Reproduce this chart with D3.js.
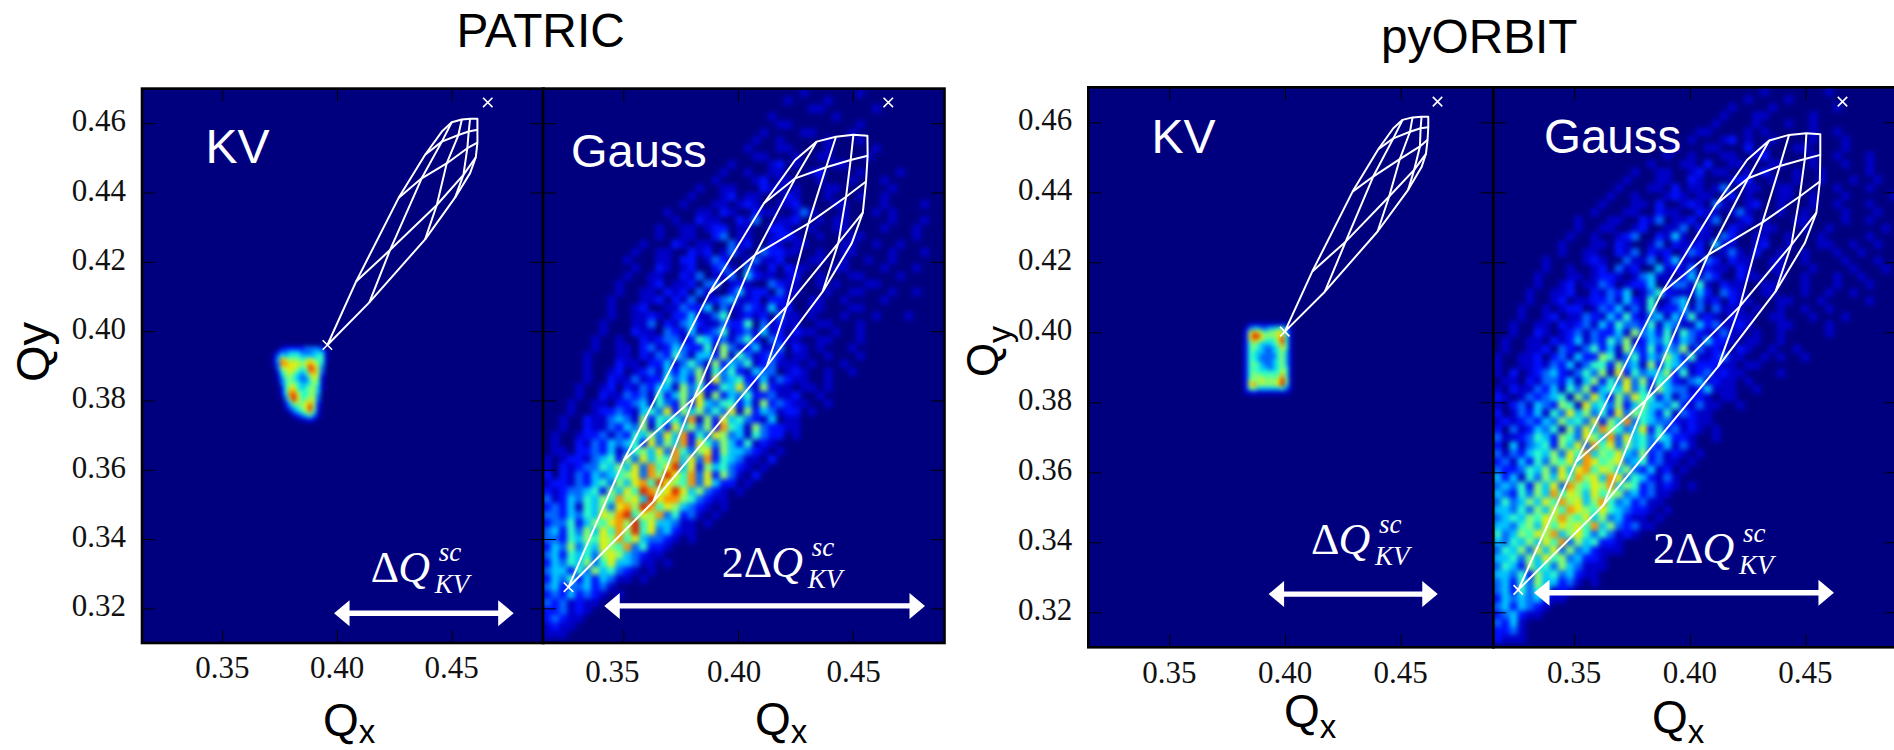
<!DOCTYPE html>
<html>
<head>
<meta charset="utf-8">
<title>PATRIC vs pyORBIT tune footprints</title>
<script src="https://cdn.jsdelivr.net/npm/d3@7"></script>
<style>
  html, body { margin: 0; padding: 0; background: #fff; overflow: hidden; }
  svg { display: block; }
  .tick text { font-family: "Liberation Serif", serif; font-size: 31px; fill: #111; }
  .tick line { stroke: #000; stroke-width: 1px; }
  .axis .domain { display: none; }
  .sans { font-family: "Liberation Sans", sans-serif; }
  .serif { font-family: "Liberation Serif", serif; }
</style>
</head>
<body>
<svg id="chart" width="1894" height="750"></svg>
<script>
const xTickValues = [0.35, 0.40, 0.45];
const yTickValues = [0.32, 0.34, 0.36, 0.38, 0.40, 0.42, 0.44, 0.46];
const xDomain = [0.315, 0.49];
const yDomain = [0.47, 0.31];

// tune footprints, [Qx, Qy]
const patricKvTie = [
  [[.3958,.3960],[.4083,.4143],[.4268,.4384],[.4384,.4509],[.4457,.4576],[.4500,.4603],[.4544,.4611],[.4580,.4613],[.4612,.4613],[.4612,.4581],[.4612,.4544],[.4605,.4502],[.4580,.4456],[.4515,.4386],[.4384,.4265],[.4141,.4083],[.3958,.3960]],
  [[.4083,.4143],[.4231,.4234],[.4435,.4364],[.4551,.4451],[.4605,.4502]],
  [[.4268,.4384],[.4369,.4441],[.4478,.4484],[.4568,.4528],[.4612,.4544]],
  [[.4384,.4509],[.4457,.4547],[.4529,.4566],[.4574,.4576],[.4612,.4581]],
  [[.4141,.4083],[.4231,.4234],[.4369,.4441],[.4457,.4547],[.4500,.4603]],
  [[.4384,.4265],[.4435,.4364],[.4478,.4484],[.4529,.4566],[.4544,.4611]],
  [[.4515,.4386],[.4551,.4451],[.4568,.4528],[.4574,.4576],[.4580,.4613]]
];
const patricGaussTie = [
  [[.3261,.3261],[.3503,.3628],[.3874,.4109],[.4113,.4369],[.4249,.4494],[.4343,.4547],[.4427,.4561],[.4503,.4567],[.4564,.4564],[.4565,.4506],[.4558,.4432],[.4544,.4342],[.4496,.4254],[.4369,.4114],[.4125,.3898],[.3631,.3508],[.3261,.3261]],
  [[.3503,.3628],[.3808,.3806],[.4212,.4071],[.4437,.4254],[.4544,.4342]],
  [[.3874,.4109],[.4074,.4220],[.4307,.4311],[.4471,.4388],[.4558,.4432]],
  [[.4113,.4369],[.4249,.4441],[.4384,.4473],[.4491,.4494],[.4565,.4506]],
  [[.3631,.3508],[.3808,.3806],[.4074,.4220],[.4249,.4441],[.4343,.4547]],
  [[.4125,.3898],[.4212,.4071],[.4307,.4311],[.4384,.4473],[.4427,.4561]],
  [[.4369,.4114],[.4437,.4254],[.4471,.4388],[.4491,.4494],[.4503,.4567]]
];
const orbitKvTie = [
  [[.3999,.4002],[.4118,.4174],[.4292,.4402],[.4403,.4523],[.4468,.4583],[.4508,.4607],[.4551,.4614],[.4590,.4616],[.4619,.4616],[.4619,.4586],[.4616,.4550],[.4609,.4510],[.4590,.4472],[.4532,.4407],[.4400,.4288],[.4172,.4116],[.3999,.4002]],
  [[.4118,.4174],[.4262,.4259],[.4450,.4388],[.4558,.4464],[.4609,.4510]],
  [[.4292,.4402],[.4381,.4445],[.4496,.4495],[.4583,.4531],[.4616,.4550]],
  [[.4403,.4523],[.4468,.4554],[.4540,.4573],[.4586,.4583],[.4619,.4586]],
  [[.4172,.4116],[.4262,.4259],[.4381,.4445],[.4468,.4554],[.4508,.4607]],
  [[.4400,.4288],[.4450,.4388],[.4496,.4495],[.4540,.4573],[.4551,.4614]],
  [[.4532,.4407],[.4558,.4464],[.4583,.4531],[.4586,.4583],[.4590,.4616]]
];
const orbitGaussTie = [
  [[.3258,.3264],[.3508,.3630],[.3878,.4112],[.4115,.4367],[.4248,.4493],[.4343,.4548],[.4429,.4564],[.4504,.4569],[.4564,.4566],[.4564,.4507],[.4562,.4431],[.4547,.4342],[.4497,.4255],[.4370,.4116],[.4122,.3902],[.3626,.3506],[.3258,.3264]],
  [[.3508,.3630],[.3810,.3806],[.4216,.4074],[.4439,.4250],[.4547,.4342]],
  [[.3878,.4112],[.4079,.4221],[.4314,.4314],[.4475,.4388],[.4562,.4431]],
  [[.4115,.4367],[.4252,.4440],[.4389,.4475],[.4497,.4495],[.4564,.4507]],
  [[.3626,.3506],[.3810,.3806],[.4079,.4221],[.4252,.4440],[.4343,.4548]],
  [[.4122,.3902],[.4216,.4074],[.4314,.4314],[.4389,.4475],[.4429,.4564]],
  [[.4370,.4116],[.4439,.4250],[.4475,.4388],[.4497,.4495],[.4504,.4569]]
];

// bare-tune markers [lower, upper]
const patricKvMarks = [[.3958,.3960],[.4657,.4660]];
const patricGaussMarks = [[.3261,.3261],[.4655,.4660]];
const orbitKvMarks = [[.3999,.4002],[.4659,.4659]];
const orbitGaussMarks = [[.3258,.3264],[.4660,.4659]];

// double arrows [Qx from, Qx to, Qy]
const patricKvArrow = [.3987, .4770, .3186];
const patricGaussArrow = [.3417, .4815, .3207];
const orbitKvArrow = [.3929, .4660, .3252];
const orbitGaussArrow = [.3326, .4623, .3256];

// density levels 0-9 per bin, one string per row from the top
const patricKvDensity = [
  "00122222333320",
  "02334443334441",
  "13545554444551",
  "14876665676551",
  "13887776787640",
  "03677765698630",
  "02567654588630",
  "01466543467620",
  "01356543357510",
  "00356654456510",
  "00257754566410",
  "00258865566400",
  "00148975566300",
  "00036975676300",
  "00024666786200",
  "00013456796200",
  "00001345685100",
  "00000123453100",
  "00000001121000"
];
const orbitKvDensity = [
  "0011111111110",
  "0134433445531",
  "0268765667741",
  "0279976667851",
  "0268765557951",
  "0256544456851",
  "0256543345751",
  "0255443345641",
  "0255433335641",
  "0255433345641",
  "0256543345641",
  "0255544345651",
  "0256555555751",
  "0256665656851",
  "0266676667961",
  "0278666667951",
  "0256444444531",
  "0112111111110"
];
const patricGaussDensity = [
  "00000000000000000000000000000000100000010",
  "0000000000000000000000000000001000010000",
  "000000000000000000000000000000000110000001",
  "0000000000000000000000000000100000001000",
  "000000000000000000000000000001100000000100",
  "0000000000000000000000000001000011000010",
  "00000000000000000000000000100100000100010",
  "000000000000000000000000010001100001000001",
  "0000000000000000000000000011000100110000100",
  "00000000000000000000000100001201000011000",
  "000000000000000000000010010011000120000100001",
  "00000000000000000000010000120110001000100010",
  "0000000000000000000100110002110100011000000100",
  "00000000000000000010001201100021000100010010",
  "000000000000000001000110121001120000110000100001",
  "00000000000000010001102100211001310001000101000",
  "0000000000000000100211002130011200101100000100010",
  "00000000000000100110122011002210010011000010001",
  "0000000000000010011002301100122100100011000000100",
  "00000000000010002101100312002101100001100100100",
  "000000000001001100212013100322110010011000010001",
  "0000000000100011022013200131120001100100100100",
  "00000000000100210120023103102021100011000010001",
  "000000000010011002130113042110120010001100001",
  "0000000001000120112033012100321100101000110000",
  "00000000010011021203100241220311000100110001001",
  "0000000010001120213012341120221001100100001",
  "00000000100120011322403113214120011000110000",
  "0000000010011210224113501212031101000100010001",
  "000000010001130213421132250312110011000100",
  "00000001000211032141235123141202110010010",
  "0000001001002123312542313520321100110001",
  "000000100110231243225163124113021010001000",
  "00000100011021325314426153123201100100010",
  "0000010002110224135316243512311101000100",
  "000001001201231424361535214330121001001",
  "00000100211312253426173452241321100100",
  "0000100120213244163522547316211011010",
  "0000100211323152463716243522311200100",
  "000100110223415326274355241623211001",
  "00010012232145372646353716243122010",
  "0010021134316254538162745321401100",
  "001002113243615274636285416322110",
  "01001223132546374825376341532201",
  "0100213243452736482753642512100",
  "011022324135647385367264432101",
  "10122134526374658473825431102",
  "1021233546473857947264532101",
  "202132434567386975837263102",
  "12213245364785976583742201",
  "2123345264759867974632101",
  "312435465867497886532110",
  "23241546378698576432101",
  "3324354768957683523101",
  "233524657869574431101",
  "34253647586957342110",
  "3325465768574332101",
  "243635476583522100",
  "34254536764321100",
  "2435463574431101",
  "34425364532101",
  "2435242431101",
  "34233423100",
  "2324232101",
  "323121100",
  "22312100",
  "2321100",
  "121100",
  "11100"
];
const orbitGaussDensity = [
  "000000000000000000000000000000000100000001",
  "00000000000000000000000000000001000010000",
  "0000000000000000000000000000010000100000001",
  "000000000000000000000000000010001100000100",
  "00000000000000000000000000010000100010010",
  "0000000000000000000000000110000101000001001",
  "00000000000000000000000010001201001000010001",
  "0000000000000000000000100011000201000110000100",
  "000000000000000000000100100011001200000100100010",
  "00000000000000000001000110200110001100010001001",
  "0000000000000000010011001201100102000100100000100",
  "00000000000000001000110021000122001001001000100100",
  "000000000000000100011020110130011001100000100010",
  "00000000000000100100012101100201000110010001000001",
  "0000000000000100011020012103100120010001001000100",
  "00000000000010001100211002110131000100100001000100",
  "0000000000100011002130112013001201000110000100100",
  "00000000001001100120011302100210011000100100000010",
  "000000000100100123002141011032001100100010000010",
  "00000000100011021001302112041100120010001100100100",
  "0000000010011002130212013200131020010010001001",
  "00000010000121003113024110320211001100100001000100",
  "0000001001001203120041213021102100110001000010001",
  "000001000110122101341102413200211001001000100100",
  "00000100120113201224013315102110011000100010001",
  "0000100112002132401352111420321001100010010010",
  "00001001201122314215013403120211000110001000001",
  "000100101220132413151224130311101001001001",
  "00010012011321425213414251210211001100010001",
  "0010011021231425332514311423112100011000010",
  "001002101231322416342515321131101001000001",
  "01001102124132536124352431422101100100",
  "01001120321352416325243613121021001001",
  "100112023142265135243642511231100101001",
  "10011213241355263416254312221101100",
  "1020123421353617253446251231211000010",
  "0110213324146253736254213412110100",
  "102113241536245473526433124111001",
  "21013234516374263755241322101100",
  "1023143265174536246443521311001",
  "201324153746352736542513211",
  "12123243645372648354332121100",
  "2031243516374865347252312101",
  "3112354265376483745354221001",
  "204134526473857364532413100",
  "31324546375846574362312101",
  "2314253657487567345231101",
  "3223546374785764632412010",
  "42415364758674873542131",
  "3435264738657684652312101",
  "4325364857647566342311",
  "35346475867468534231100",
  "4435364758765754322101",
  "345465768657463421101",
  "44356475767584632311",
  "5346576846753531210",
  "43546475836452210",
  "3546374736342111",
  "44536475634221",
  "354264536431110",
  "4435264534211",
  "3425364423101",
  "34253541210",
  "243434211",
  "3424321",
  "23421100",
  "3241",
  "22310",
  "21110"
];

const svg = d3.select('#chart');

// jet style colormap over the ten density levels
const levelColor = d3.scaleLinear()
  .domain(d3.range(10))
  .range(['#00007f', '#0000c8', '#0010ff', '#0068ff', '#00c4ff', '#2effc8', '#8cff6c', '#e4f010', '#ff9400', '#e02400']);

const defs = svg.append('defs');
const blurFilter = (id, sd) => defs.append('filter')
  .attr('id', id)
  .attr('filterUnits', 'userSpaceOnUse')
  .attr('x', 0).attr('y', 0).attr('width', 1894).attr('height', 750)
  .attr('color-interpolation-filters', 'sRGB')
  .append('feGaussianBlur').attr('stdDeviation', sd);
blurFilter('blur-gauss', 2.6);
blurFilter('blur-kv', 1.9);

const panelDefs = [
  { id: 'p1', xr: [142, 543.5], yr: [88.6, 643], density: patricKvDensity, origin: [.3717, .3957], bin: [.00175, .00115], blur: 'blur-kv',
    tie: patricKvTie, marks: patricKvMarks, arrow: patricKvArrow, xLabelNudge: [0, 0, 0], xLabelBase: 678.3, yLabels: true },
  { id: 'p2', xr: [543, 944.5], yr: [88.6, 643], density: patricGaussDensity, origin: [.315, .47], bin: [.0035, .0023], blur: 'blur-gauss',
    tie: patricGaussTie, marks: patricGaussMarks, arrow: patricGaussArrow, xLabelNudge: [-11, -4, 1], xLabelBase: 682, yLabels: false },
  { id: 'p3', xr: [1088.3, 1493.3], yr: [87.3, 647.3], density: orbitKvDensity, origin: [.3805, .4029], bin: [.00175, .00115], blur: 'blur-kv',
    tie: orbitKvTie, marks: orbitKvMarks, arrow: orbitKvArrow, xLabelNudge: [0, 0, 0], xLabelBase: 682.7, yLabels: true },
  { id: 'p4', xr: [1493.3, 1898], yr: [87.3, 647.3], density: orbitGaussDensity, origin: [.315, .47], bin: [.0035, .0023], blur: 'blur-gauss',
    tie: orbitGaussTie, marks: orbitGaussMarks, arrow: orbitGaussArrow, xLabelNudge: [0, 0, 0], xLabelBase: 682.7, yLabels: false }
];

function drawPanel(p) {
  const x = d3.scaleLinear().domain(xDomain).range(p.xr);
  const y = d3.scaleLinear().domain(yDomain).range(p.yr);
  const g = svg.append('g').attr('class', 'panel');

  defs.append('clipPath').attr('id', 'clip-' + p.id)
    .append('rect')
    .attr('x', p.xr[0]).attr('y', p.yr[0])
    .attr('width', p.xr[1] - p.xr[0]).attr('height', p.yr[1] - p.yr[0]);

  const plot = g.append('g').attr('clip-path', `url(#clip-${p.id})`);
  plot.append('rect')
    .attr('x', p.xr[0]).attr('y', p.yr[0])
    .attr('width', p.xr[1] - p.xr[0]).attr('height', p.yr[1] - p.yr[0])
    .attr('fill', '#00007f');

  // flatten the level strings into bins
  const bins = [];
  p.density.forEach((row, r) => {
    for (let c = 0; c < row.length; c++) {
      const level = +row[c];
      if (level > 0) bins.push({ r, c, level });
    }
  });
  const qx = (c) => p.origin[0] + c * p.bin[0];
  const qy = (r) => p.origin[1] - r * p.bin[1];

  plot.append('g').attr('filter', `url(#${p.blur})`)
    .selectAll('rect')
    .data(bins)
    .join('rect')
    .attr('x', d => x(qx(d.c)))
    .attr('y', d => y(qy(d.r)))
    .attr('width', d => x(qx(d.c + 1)) - x(qx(d.c)) + 0.5)
    .attr('height', d => y(qy(d.r + 1)) - y(qy(d.r)) + 0.5)
    .attr('fill', d => levelColor(d.level));

  const line = d3.line().x(d => x(d[0])).y(d => y(d[1]));
  plot.append('g').selectAll('path')
    .data(p.tie)
    .join('path')
    .attr('d', line)
    .attr('fill', 'none')
    .attr('stroke', '#fff')
    .attr('stroke-width', 2)
    .attr('stroke-linejoin', 'round');

  const times = d3.symbol().type(d3.symbolTimes).size(60);
  plot.append('g').selectAll('path')
    .data(p.marks)
    .join('path')
    .attr('transform', d => `translate(${x(d[0])},${y(d[1])})`)
    .attr('d', times)
    .attr('fill', 'none')
    .attr('stroke', '#fff')
    .attr('stroke-width', 1.6);

  // double arrow
  const [a0, a1, ay] = p.arrow;
  const ax0 = x(a0), ax1 = x(a1), ayy = y(ay);
  const head = 15.5, hh = 13, sh = 2.7;
  const ap = d3.path();
  ap.moveTo(ax0, ayy);
  ap.lineTo(ax0 + head, ayy - hh);
  ap.lineTo(ax0 + head, ayy - sh);
  ap.lineTo(ax1 - head, ayy - sh);
  ap.lineTo(ax1 - head, ayy - hh);
  ap.lineTo(ax1, ayy);
  ap.lineTo(ax1 - head, ayy + hh);
  ap.lineTo(ax1 - head, ayy + sh);
  ap.lineTo(ax0 + head, ayy + sh);
  ap.lineTo(ax0 + head, ayy + hh);
  ap.closePath();
  plot.append('path').attr('d', ap.toString()).attr('fill', '#fff');

  // ticks on all four sides, pointing inward
  const tickLen = 13;
  const [h, w] = [p.yr[1] - p.yr[0], p.xr[1] - p.xr[0]];
  g.append('g').attr('class', 'axis').attr('transform', `translate(0,${p.yr[1]})`)
    .call(d3.axisBottom(x).tickValues(xTickValues).tickSize(-tickLen).tickFormat(''));
  g.append('g').attr('class', 'axis').attr('transform', `translate(0,${p.yr[0]})`)
    .call(d3.axisTop(x).tickValues(xTickValues).tickSize(-tickLen).tickFormat(''));
  g.append('g').attr('class', 'axis').attr('transform', `translate(${p.xr[0]},0)`)
    .call(d3.axisLeft(y).tickValues(yTickValues).tickSize(-tickLen).tickPadding(16).tickFormat(p.yLabels ? d3.format('.2f') : ''))
    .selectAll('text').attr('dy', '0.24em');
  g.append('g').attr('class', 'axis').attr('transform', `translate(${p.xr[1]},0)`)
    .call(d3.axisRight(y).tickValues(yTickValues).tickSize(-tickLen).tickFormat(''));

  g.append('rect')
    .attr('x', p.xr[0]).attr('y', p.yr[0])
    .attr('width', w).attr('height', h)
    .attr('fill', 'none').attr('stroke', '#000').attr('stroke-width', 2.6);

  // x tick labels sit by hand in the original, some are off their ticks
  g.append('g').attr('class', 'tick').selectAll('text')
    .data(xTickValues)
    .join('text')
    .attr('x', (d, i) => x(d) + p.xLabelNudge[i])
    .attr('y', p.xLabelBase)
    .attr('text-anchor', 'middle')
    .text(d3.format('.2f'));
}

panelDefs.forEach(drawPanel);

function label(cls, x, y, size, txt, fill) {
  return svg.append('text').attr('class', cls)
    .attr('x', x).attr('y', y)
    .attr('font-size', size)
    .attr('fill', fill || '#000')
    .text(txt);
}

label('sans', 456.5, 47, 47.8, 'PATRIC');
label('sans', 1381, 53, 47.8, 'pyORBIT');

label('sans', 205.5, 163.3, 48, 'KV', '#fff');
label('sans', 571, 167, 47, 'Gauss', '#fff');
label('sans', 1151.5, 152.7, 48, 'KV', '#fff');
label('sans', 1544, 152.7, 47.5, 'Gauss', '#fff');

function qxLabel(x, y, subDrop) {
  label('sans', x, y, 46, 'Q');
  label('sans', x + 35.8, y + subDrop, 33, 'x');
}
qxLabel(323, 736, 7);
qxLabel(755, 735, 8);
qxLabel(1284, 726.7, 11);
qxLabel(1652, 733, 10);

// Qy titles, rotated
svg.append('text').attr('class', 'sans').attr('font-size', 47)
  .attr('transform', 'translate(48.5,382) rotate(-90)').text('Qy');
svg.append('text').attr('class', 'sans').attr('font-size', 44)
  .attr('transform', 'translate(998,377) rotate(-90)').text('Q');
svg.append('text').attr('class', 'sans').attr('font-size', 34)
  .attr('transform', 'translate(1011,343) rotate(-90)').text('y');

function tuneShift(prefix, x, y) {
  const serif = (xx, yy, size, txt, italic) => {
    const t = label('serif', xx, yy, size, txt, '#fff');
    if (italic) t.attr('font-style', 'italic');
  };
  if (prefix) serif(x - 22, y, 44, prefix);
  serif(x, y, 44, '\u0394');
  serif(x + 27.5, y, 44, 'Q', true);
  serif(x + 64, y + 11, 27, 'KV', true);
  serif(x + 68, y - 21, 27, 'sc', true);
}
tuneShift('', 370.7, 581.7);
tuneShift('2', 743.7, 576.7);
tuneShift('', 1311, 554);
tuneShift('2', 1675, 562.7);
</script>
</body>
</html>
